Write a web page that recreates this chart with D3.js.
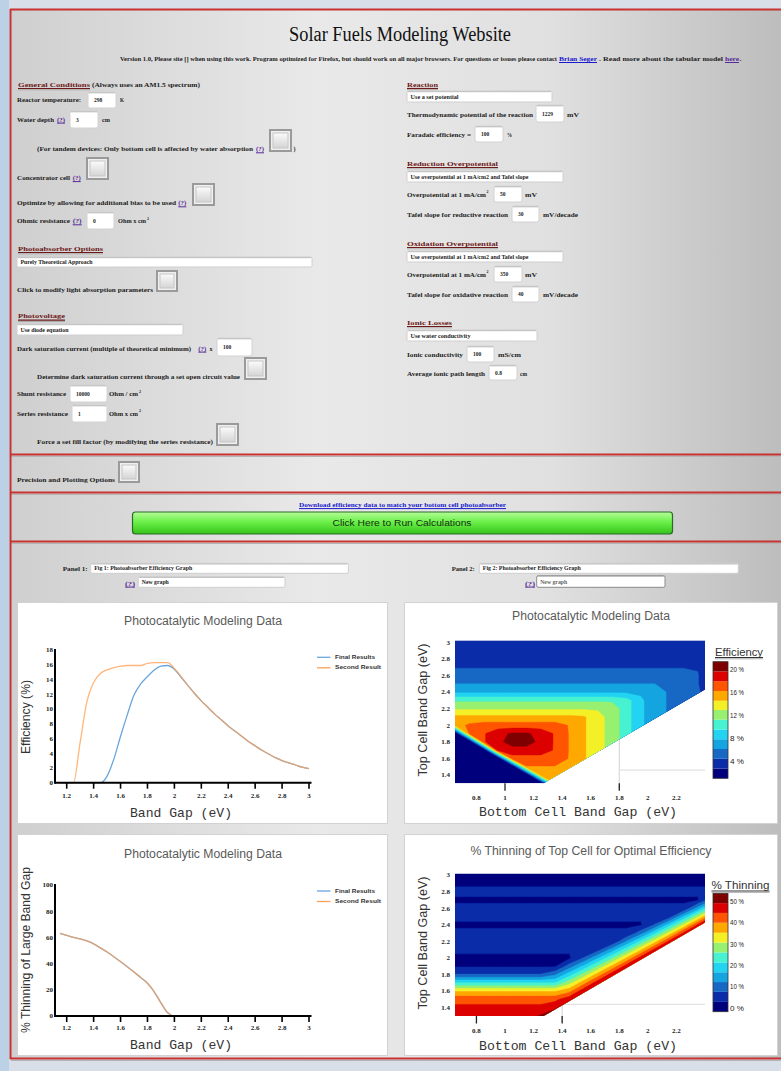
<!DOCTYPE html>
<html>
<head>
<meta charset="utf-8">
<title>Solar Fuels Modeling Website</title>
<script src="https://cdnjs.cloudflare.com/ajax/libs/d3/7.8.5/d3.min.js"></script>
<style>
  html, body { margin: 0; padding: 0; background: #d3dce7; }
  svg { display: block; }
</style>
</head>
<body>
<svg id="page" width="781" height="1071"></svg>
<script>
// ---------- chart data ----------
const bandGap = [1.15, 1.2, 1.25, 1.3, 1.35, 1.4, 1.45, 1.5, 1.55, 1.6, 1.65, 1.7, 1.75, 1.8, 1.85, 1.9, 1.95, 2.0,
  2.05, 2.1, 2.15, 2.2, 2.25, 2.3, 2.35, 2.4, 2.45, 2.5, 2.55, 2.6, 2.65, 2.7, 2.75, 2.8, 2.85, 2.9, 2.95, 3.0];
const efficiencyFinal = [0, 0, 0, 0, 0, 0, 0, 0.9, 3.2, 6.3, 9.2, 11.9, 13.4, 14.4, 15.3, 15.8, 15.9, 15.4,
  14.3, 13.2, 12.1, 11.1, 10.2, 9.3, 8.5, 7.7, 7.0, 6.3, 5.6, 5.0, 4.4, 3.9, 3.4, 3.0, 2.7, 2.4, 2.1, 1.9];
const efficiencySecond = [0, 0, 0, 5.5, 11.0, 13.6, 14.8, 15.3, 15.6, 15.8, 15.9, 15.9, 15.9, 16.2, 16.3, 16.3, 16.3, 15.5,
  14.4, 13.2, 12.1, 11.1, 10.2, 9.3, 8.5, 7.7, 7.0, 6.3, 5.6, 5.0, 4.4, 3.9, 3.4, 3.0, 2.7, 2.4, 2.1, 1.9];
const thinningFinal = [63, 61.5, 60, 58.8, 57.3, 55, 52, 48.8, 45.3, 41.5, 37.6, 33.5, 29.4, 25, 18.5, 10, 2.5, 0,
  0, 0, 0, 0, 0, 0, 0, 0, 0, 0, 0, 0, 0, 0, 0, 0, 0, 0, 0, 0];
const thinningSecond = [63, 61.5, 60, 58.8, 57.3, 55, 52, 48.8, 45.3, 41.5, 37.6, 33.5, 29.4, 25, 18.5, 10, 2.5, 0,
  0, 0, 0, 0, 0, 0, 0, 0, 0, 0, 0, 0, 0, 0, 0, 0, 0, 0, 0, 0];
const seriesNames = ['Final Results', 'Second Result'];
const seriesColors = ['#6aa6db', '#ffa257'];
const bandGapTicks = [1.2, 1.4, 1.6, 1.8, 2, 2.2, 2.4, 2.6, 2.8, 3];
const efficiencyTicks = [0, 2, 4, 6, 8, 10, 12, 14, 16, 18];
const thinningTicks = [0, 20, 40, 60, 80, 100];

// tandem maps: columns = bottom cell gap, rows = top cell gap (low to high)
const bottomGaps = [0.65, 0.75, 0.85, 0.95, 1.05, 1.15, 1.25, 1.35, 1.45, 1.55, 1.65, 1.75, 1.85, 1.95, 2.05, 2.15, 2.25, 2.35, 2.45];
const topGaps = [1.3, 1.4, 1.5, 1.6, 1.7, 1.8, 1.9, 2.0, 2.1, 2.2, 2.3, 2.4, 2.5, 2.6, 2.7, 2.8, 2.9, 3.0];
const efficiencyGrid = [
  [0, 0, 0, 0, 0, 0, 0, 15, 15, 14.8, 13.6, 12.3, 10.3, 8.2, 6.9, 6.0, 5.3, 4.6, 4.0],
  [0, 0, 0, 0, 0, 0, 15.5, 15.5, 15.5, 14.8, 13.6, 12.3, 10.3, 8.2, 6.9, 6.0, 5.3, 4.6, 4.0],
  [0, 0, 0, 0, 0, 16.2, 16.2, 16.2, 16.2, 14.8, 13.6, 12.3, 10.3, 8.2, 6.9, 6.0, 5.3, 4.6, 4.0],
  [0, 0, 0, 0, 17.3, 17.3, 17.3, 17.3, 16.2, 14.8, 13.6, 12.3, 10.3, 8.2, 6.9, 6.0, 5.3, 4.6, 4.0],
  [0, 0, 0, 19, 19, 19, 19, 17.8, 16.2, 14.8, 13.6, 12.3, 10.3, 8.2, 6.9, 6.0, 5.3, 4.6, 4.0],
  [0, 0, 17.8, 19.2, 20.5, 20.5, 19.2, 17.8, 16.2, 14.8, 13.6, 12.3, 10.3, 8.2, 6.9, 6.0, 5.3, 4.6, 4.0],
  [0, 16.6, 17.8, 19.2, 19.9, 19.9, 19.2, 17.8, 16.2, 14.8, 13.6, 12.3, 10.3, 8.2, 6.9, 6.0, 5.3, 4.6, 4.0],
  [15.5, 16.6, 17, 17, 17, 17, 17, 17, 16.2, 14.8, 13.6, 12.3, 10.3, 8.2, 6.9, 6.0, 5.3, 4.6, 4.0],
  [15, 15, 15, 15, 15, 15, 15, 15, 15, 14.8, 13.6, 12.3, 10.3, 8.2, 6.9, 6.0, 5.3, 4.6, 4.0],
  [12.8, 12.8, 12.8, 12.8, 12.8, 12.8, 12.8, 12.8, 12.8, 12.8, 12.8, 12.3, 10.3, 8.2, 6.9, 6.0, 5.3, 4.6, 4.0],
  [11, 11, 11, 11, 11, 11, 11, 11, 11, 11, 11, 11, 10.3, 8.2, 6.9, 6.0, 5.3, 4.6, 4.0],
  [7.6, 7.6, 7.6, 7.6, 7.6, 7.6, 7.6, 7.6, 7.6, 7.6, 7.6, 7.6, 7.6, 7.6, 6.9, 6.0, 5.3, 4.6, 4.0],
  [6.2, 6.2, 6.2, 6.2, 6.2, 6.2, 6.2, 6.2, 6.2, 6.2, 6.2, 6.2, 6.2, 6.2, 6.2, 6.0, 5.3, 4.6, 2.6],
  [5.3, 5.3, 5.3, 5.3, 5.3, 5.3, 5.3, 5.3, 5.3, 5.3, 5.3, 5.3, 5.3, 5.3, 5.3, 5.3, 5.3, 4.6, 2.6],
  [4.4, 4.4, 4.4, 4.4, 4.4, 4.4, 4.4, 4.4, 4.4, 4.4, 4.4, 4.4, 4.4, 4.4, 4.4, 4.4, 4.4, 4.4, 2.6],
  [4.0, 4.0, 4.0, 4.0, 4.0, 4.0, 4.0, 4.0, 4.0, 4.0, 4.0, 4.0, 4.0, 4.0, 4.0, 4.0, 4.0, 4.0, 4.0],
  [3.6, 3.6, 3.6, 3.6, 3.6, 3.6, 3.6, 3.6, 3.6, 3.6, 3.6, 3.6, 3.6, 3.6, 3.6, 3.6, 3.6, 3.6, 3.6],
  [3.2, 3.2, 3.2, 3.2, 3.2, 3.2, 3.2, 3.2, 3.2, 3.2, 3.2, 3.2, 3.2, 3.2, 3.2, 3.2, 3.2, 3.2, 3.2]
];
const thinningGrid = [
  [47, 47, 47, 47, 47, 47, 50, 53, 53, 53, 53, 53, 53, 53, 53, 53, 53, 53, 53],
  [45.5, 45.5, 45.5, 45.5, 45.5, 45.5, 45.5, 48.4, 53, 53, 53, 53, 53, 53, 53, 53, 53, 53, 53],
  [43.5, 43.5, 43.5, 43.5, 43.5, 43.5, 43.5, 43.5, 48.2, 53, 53, 53, 53, 53, 53, 53, 53, 53, 53],
  [35, 35, 35, 35, 35, 35, 35, 35, 38.6, 48.0, 53, 53, 53, 53, 53, 53, 53, 53, 53],
  [21.5, 21.5, 21.5, 21.5, 21.5, 21.5, 21.5, 21.5, 29.1, 38.0, 47.8, 53, 53, 53, 53, 53, 53, 53, 53],
  [8, 8, 8, 8, 8, 8, 8, 11.7, 19.5, 28.0, 37.3, 47.5, 53, 53, 53, 53, 53, 53, 53],
  [2.6, 2.6, 2.6, 2.6, 2.6, 2.6, 2.6, 2.6, 9.9, 18.0, 26.9, 36.6, 47.2, 53, 53, 53, 53, 53, 53],
  [2.4, 2.4, 2.4, 2.4, 2.4, 2.4, 2.4, 2.4, 2.4, 8.0, 16.5, 25.6, 35.7, 46.9, 53, 53, 53, 53, 53],
  [3.6, 3.6, 3.6, 3.6, 3.6, 3.6, 3.6, 3.6, 3.6, 3.6, 6.0, 14.7, 24.2, 34.8, 46.6, 53, 53, 53, 53],
  [3.6, 3.6, 3.6, 3.6, 3.6, 3.6, 3.6, 3.6, 3.6, 3.6, 3.6, 3.7, 12.7, 22.7, 33.8, 46.2, 53, 53, 53],
  [3.6, 3.6, 3.6, 3.6, 3.6, 3.6, 3.6, 3.6, 3.6, 3.6, 3.6, 3.6, 3.6, 10.5, 21.0, 32.7, 45.8, 53, 53],
  [2.6, 2.6, 2.6, 2.6, 2.6, 2.6, 2.6, 2.6, 2.6, 2.6, 2.6, 2.6, 2.6, 2.6, 8.2, 19.1, 31.4, 45.3, 53],
  [3.6, 3.6, 3.6, 3.6, 3.6, 3.6, 3.6, 3.6, 3.6, 3.6, 3.6, 3.6, 3.6, 3.6, 3.6, 5.5, 16.9, 29.9, 44.7],
  [3.6, 3.6, 3.6, 3.6, 3.6, 3.6, 3.6, 3.6, 3.6, 3.6, 3.6, 3.6, 3.6, 3.6, 3.6, 3.6, 3.6, 14.4, 28.2],
  [2.6, 2.6, 2.6, 2.6, 2.6, 2.6, 2.6, 2.6, 2.6, 2.6, 2.6, 2.6, 2.6, 2.6, 2.6, 2.6, 2.6, 2.6, 11.6],
  [3.6, 3.6, 3.6, 3.6, 3.6, 3.6, 3.6, 3.6, 3.6, 3.6, 3.6, 3.6, 3.6, 3.6, 3.6, 3.6, 3.6, 3.6, 3.6],
  [2.6, 2.6, 2.6, 2.6, 2.6, 2.6, 2.6, 2.6, 2.6, 2.6, 2.6, 2.6, 2.6, 2.6, 2.6, 2.6, 2.6, 2.6, 2.6],
  [2.0, 2.0, 2.0, 2.0, 2.0, 2.0, 2.0, 2.0, 2.0, 2.0, 2.0, 2.0, 2.0, 2.0, 2.0, 2.0, 2.0, 2.0, 2.0]
];
const efficiencyLevels = [2.8, 4.5, 6.2, 7.9, 9.6, 11.3, 13.0, 14.6, 16.3, 18.0, 19.7];
const thinningLevels = [3.0, 7.7, 12.3, 16.9, 21.5, 26.2, 30.8, 35.4, 40.1, 44.7, 49.3];
const contourColors = ['#00007c', '#0a2ca8', '#1668c4', '#14a4e0', '#22d4f2', '#46f2d0',
  '#98f070', '#f4f028', '#ffa800', '#ff5400', '#dc0000', '#7e0000'];
const bottomTicks = [0.8, 1, 1.2, 1.4, 1.6, 1.8, 2, 2.2];
const topTicks = [1.4, 1.6, 1.8, 2, 2.2, 2.4, 2.6, 2.8, 3];
const efficiencyLegendTicks = [20, 16, 12, 8, 4];
const thinningLegendTicks = [50, 40, 30, 20, 10, 0];

// ---------- page ----------
const serif = '"Liberation Serif","Times New Roman",serif';
const sans = '"Liberation Sans",Arial,sans-serif';
const mono = '"Liberation Mono","Courier New",monospace';

const svg = d3.select('#page');
const defs = svg.append('defs');

function gradient(id, stops, vertical) {
  const gr = defs.append('linearGradient').attr('id', id)
    .attr('x1', 0).attr('y1', 0).attr('x2', vertical ? 0 : 1).attr('y2', vertical ? 1 : 0);
  gr.selectAll('stop').data(stops).enter().append('stop')
    .attr('offset', d => d[0]).attr('stop-color', d => d[1]);
}
gradient('bgGrad', [[0, '#cfcfcf'], [0.4, '#e9e9e9'], [0.7, '#e0e0e0'], [1, '#bdbdbd']]);
gradient('chkGrad', [[0, '#fbfbfb'], [1, '#d4d4d4']], true);
gradient('btnGrad', [[0, '#b4fd98'], [0.45, '#6cf04a'], [1, '#34c41a']], true);

function label(g, x, y, t, w, o = {}) {
  const el = g.append('text').attr('x', x).attr('y', y).text(t)
    .style('font-family', o.family || serif)
    .style('font-size', (o.size || 6.5) + 'px')
    .style('font-weight', o.weight || 'bold')
    .style('fill', o.color || '#1c1c1c');
  if (o.anchor) el.attr('text-anchor', o.anchor);
  if (o.italic) el.style('font-style', 'italic');
  if (w) el.attr('textLength', w).attr('lengthAdjust', 'spacingAndGlyphs');
  return el;
}

// outer strips and container
svg.append('rect').attr('width', 781).attr('height', 1071).attr('fill', '#d8dfe8');
svg.append('rect').attr('x', 0).attr('y', 0).attr('width', 9).attr('height', 1071).attr('fill', '#bcd0e6');
svg.append('rect').attr('x', 10).attr('y', 9).attr('width', 771).attr('height', 1050).attr('fill', 'url(#bgGrad)');

const redLines = [9.5, 454.5, 492.5, 541.5, 1058.5];
svg.selectAll('.sep').data(redLines).enter().append('line')
  .attr('x1', 10).attr('x2', 781).attr('y1', d => d).attr('y2', d => d)
  .attr('stroke', '#c83232').attr('stroke-width', 2);
svg.selectAll('.sep2').data(redLines.slice(1)).enter().append('line')
  .attr('x1', 11).attr('x2', 781).attr('y1', d => d + 2).attr('y2', d => d + 2)
  .attr('stroke', '#b4b4b4').attr('stroke-width', 1);
svg.append('line').attr('x1', 10.5).attr('x2', 10.5).attr('y1', 9).attr('y2', 1059)
  .attr('stroke', '#c83232').attr('stroke-width', 2);

const page = svg.append('g');

// header
label(page, 400, 41, 'Solar Fuels Modeling Website', 222, { size: 20, weight: 'normal', anchor: 'middle', color: '#111' });
label(page, 120, 61, 'Version 1.0, Please site [] when using this work. Program optimized for Firefox, but should work on all major browsers. For questions or issues please contact', 437, { size: 6 });
label(page, 559, 61, 'Brian Seger', 38, { size: 6, color: '#1a1acc' });
label(page, 599, 61, '. Read more about the tabular model', 124, { size: 6 });
label(page, 725, 61, 'here', 14, { size: 6, color: '#5a2a9a' });
label(page, 739.5, 61, '.', 2, { size: 6 });
page.append('line').attr('x1', 559).attr('x2', 597).attr('y1', 62.5).attr('y2', 62.5).attr('stroke', '#1a1acc');
page.append('line').attr('x1', 725).attr('x2', 739).attr('y1', 62.5).attr('y2', 62.5).attr('stroke', '#5a2a9a');

// form: [x, baseline, text, width, kind]  kind: h = heading, q = help link, s = superscript
const formTexts = [
  [18, 86.5, 'General Conditions', 72, 'h'],
  [92, 86.5, '(Always uses an AM1.5 spectrum)', 108],
  [17, 102.2, 'Reactor temperature:', 64],
  [120, 102.2, 'K', 4],
  [17, 121.5, 'Water depth', 37],
  [57, 121.5, '(?)', 8, 'q'],
  [102, 121.5, 'cm', 8],
  [37, 151.2, '(For tandem devices: Only bottom cell is affected by water absorption', 216],
  [256, 151.2, '(?)', 8, 'q'],
  [293.5, 151.2, ')', 2],
  [17, 180, 'Concentrator cell', 53],
  [72.7, 180, '(?)', 8, 'q'],
  [17, 205.2, 'Optimize by allowing for additional bias to be used', 159],
  [178.3, 205.2, '(?)', 8, 'q'],
  [17, 223.2, 'Ohmic resistance', 53],
  [72.7, 223.2, '(?)', 9, 'q'],
  [118, 223.2, 'Ohm x cm', 28],
  [147, 219.5, '2', 2, 's'],
  [18, 250.5, 'Photoabsorber Options', 85, 'h'],
  [17, 291.5, 'Click to modify light absorption parameters', 136],
  [18, 318.2, 'Photovoltage', 47, 'h'],
  [17, 350.5, 'Dark saturation current (multiple of theoretical minimum)', 174],
  [198.3, 350.5, '(?)', 8, 'q'],
  [209.5, 350.5, 'x', 3],
  [37, 379, 'Determine dark saturation current through a set open circuit value', 203],
  [17, 396.2, 'Shunt resistance', 49],
  [109, 396.2, 'Ohm / cm', 29],
  [139, 392.5, '2', 2, 's'],
  [17, 415.5, 'Series resistance', 51],
  [109, 415.5, 'Ohm x cm', 29],
  [139, 411.8, '2', 2, 's'],
  [37, 444, 'Force a set fill factor (by modifying the series resistance)', 176],
  [407, 86.5, 'Reaction', 31, 'h'],
  [407, 117.2, 'Thermodynamic potential of the reaction', 126],
  [567, 117.2, 'mV', 12],
  [407, 137.2, 'Faradaic efficiency =', 64],
  [507, 137.2, '%', 5],
  [407, 165.5, 'Reduction Overpotential', 91, 'h'],
  [407, 196.5, 'Overpotential at 1 mA/cm', 79],
  [486.5, 192.8, '2', 2, 's'],
  [525, 196.5, 'mV', 12],
  [407, 216.5, 'Tafel slope for reductive reaction', 101],
  [543, 216.5, 'mV/decade', 35],
  [407, 245.5, 'Oxidation Overpotential', 91, 'h'],
  [407, 276.5, 'Overpotential at 1 mA/cm', 79],
  [486.5, 272.8, '2', 2, 's'],
  [525, 276.5, 'mV', 12],
  [407, 296.5, 'Tafel slope for oxidative reaction', 101],
  [543, 296.5, 'mV/decade', 35],
  [407, 324.5, 'Ionic Losses', 45, 'h'],
  [407, 356.5, 'Ionic conductivity', 56],
  [498, 356.5, 'mS/cm', 23],
  [407, 375.5, 'Average ionic path length', 78],
  [520, 375.5, 'cm', 7],
  [17, 482, 'Precision and Plotting Options', 98],
  [62.7, 570.5, 'Panel 1:', 25],
  [125, 585.5, '(?)', 10, 'q'],
  [451.7, 570.5, 'Panel 2:', 23],
  [525, 585.5, '(?)', 10, 'q']
];
formTexts.forEach(([x, y, t, w, k]) => {
  if (k === 'h') {
    label(page, x, y, t, w, { color: '#6e1818', size: 7 });
    page.append('line').attr('x1', x).attr('x2', x + w).attr('y1', y + 2).attr('y2', y + 2).attr('stroke', '#6e1818').attr('stroke-width', 1.2);
    page.append('line').attr('x1', x).attr('x2', x + w).attr('y1', y + 3.3).attr('y2', y + 3.3).attr('stroke', '#a0a0a0').attr('stroke-width', 0.8);
  } else if (k === 'q') {
    label(page, x, y, t, w, { color: '#5a2a9a' });
    page.append('line').attr('x1', x).attr('x2', x + w).attr('y1', y + 1.6).attr('y2', y + 1.6).attr('stroke', '#5a2a9a').attr('stroke-width', 1);
  } else if (k === 's') {
    label(page, x, y, t, w, { size: 4 });
  } else {
    label(page, x, y, t, w);
  }
});

// inputs: [x, y, w, h, value]
const formInputs = [
  [88, 92, 28, 16, '298'], [70, 111, 28, 17, '3'], [87, 212, 27, 17, '0'],
  [217, 338, 35, 18, '100'], [70, 385, 37, 17, '10000'], [72, 405, 35, 17, '1'],
  [536, 105, 28, 17, '1229'], [475, 126, 28, 16, '100'], [494, 186, 28, 16, '50'],
  [512, 206, 27, 16, '30'], [494, 266, 28, 16, '350'], [512, 286, 27, 16, '40'],
  [467, 346, 27, 16, '100'], [489, 365, 28, 15, '0.8']
];
formInputs.forEach(([x, y, w, h, v]) => {
  page.append('rect').attr('x', x).attr('y', y).attr('width', w).attr('height', h).attr('rx', 2)
    .attr('fill', '#fff').attr('stroke', '#d2d2d2');
  page.append('line').attr('x1', x + 1).attr('x2', x + w - 1).attr('y1', y + 0.8).attr('y2', y + 0.8).attr('stroke', '#b8b8b8');
  label(page, x + 6, y + h / 2 + 2.2, v, null, { size: 5.5 });
});

// selects / long text fields: [x, y, w, h, text, textWidth, grey]
const formSelects = [
  [17, 257, 295, 10, 'Purely Theoretical Approach', 72],
  [17, 324, 166, 11, 'Use diode equation', 48],
  [407, 91, 145, 11, 'Use a set potential', 48],
  [407, 171, 156, 11, 'Use overpotential at 1 mA/cm2 and Tafel slope', 118],
  [407, 251, 156, 11, 'Use overpotential at 1 mA/cm2 and Tafel slope', 118],
  [407, 330, 130, 11, 'Use water conductivity', 60],
  [90.7, 563.3, 257.6, 10, 'Fig 1: Photoabsorber Efficiency Graph', 98],
  [138.3, 576.7, 146.7, 10.6, 'New graph', 27],
  [479.3, 563.3, 259, 10, 'Fig 2: Photoabsorber Efficiency Graph', 98],
  [536.7, 575.7, 128.3, 11.6, 'New graph', 27, true]
];
formSelects.forEach(([x, y, w, h, t, tw, grey]) => {
  page.append('rect').attr('x', x).attr('y', y).attr('width', w).attr('height', h).attr('rx', 1.5)
    .attr('fill', '#fff').attr('stroke', grey ? '#8a8a8a' : '#cfcfcf');
  page.append('line').attr('x1', x + 1).attr('x2', x + w - 1).attr('y1', y + 0.7).attr('y2', y + 0.7).attr('stroke', '#bdbdbd');
  label(page, x + 3.5, y + h / 2 + 2, t, tw, { size: 5.5, color: grey ? '#666' : '#1c1c1c' });
});

// checkboxes: [x, y, size]
const formChecks = [[270, 130, 21], [87, 158, 21], [193, 184, 21], [157, 271, 20],
  [245, 358, 21], [217, 424, 21], [119, 462, 20]];
formChecks.forEach(([x, y, s]) => {
  page.append('rect').attr('x', x).attr('y', y).attr('width', s).attr('height', s)
    .attr('fill', '#efefef').attr('stroke', '#9a9a9a').attr('stroke-width', 2);
  page.append('rect').attr('x', x + 3).attr('y', y + 3).attr('width', s - 6).attr('height', s - 6)
    .attr('fill', 'url(#chkGrad)').attr('stroke', '#c6c6c6');
});

// download link + run button
label(page, 299, 507, 'Download efficiency data to match your bottom cell photoabsorber', 207, { size: 6, color: '#1a1acc' });
page.append('line').attr('x1', 299).attr('x2', 506).attr('y1', 508.6).attr('y2', 508.6).attr('stroke', '#1a1acc');
page.append('rect').attr('x', 132.5).attr('y', 512).attr('width', 540).attr('height', 22).attr('rx', 3)
  .attr('fill', 'url(#btnGrad)').attr('stroke', '#2b6a28').attr('stroke-width', 1.2);
label(page, 402, 526, 'Click Here to Run Calculations', 139, { family: sans, size: 8.5, weight: 'normal', anchor: 'middle', color: '#123012' });

// ---------- charts ----------
function chartBox(ox, oy, w) {
  const g = svg.append('g').attr('transform', `translate(${ox},${oy})`);
  g.append('rect').attr('x', -0.5).attr('y', 1.5).attr('width', w + 1).attr('height', 221)
    .attr('fill', 'none').attr('stroke', '#d2d2d2');
  g.append('rect').attr('x', 0).attr('y', 2).attr('width', w).attr('height', 220).attr('fill', '#fff');
  return g;
}

function lineChart(ox, oy, cfg) {
  const g = chartBox(ox, oy, 369);
  const x = d3.scaleLinear().domain([1.113, 3]).range([37, 291]);
  const y = d3.scaleLinear().domain([0, cfg.yMax]).range(cfg.yRange);

  label(g, 185, cfg.titleY, 'Photocatalytic Modeling Data', 158, { family: sans, size: 12, weight: 'normal', anchor: 'middle', color: '#5a5a5a' });

  // lines
  const line = d3.line().x((d, i) => x(bandGap[i])).y(d => y(d)).curve(d3.curveMonotoneX);
  cfg.series.forEach((s, k) => {
    g.append('path').datum(s).attr('d', line).attr('fill', 'none')
      .attr('stroke', seriesColors[k]).attr('stroke-width', 1.3).attr('opacity', k ? 0.78 : 1);
  });

  // axes
  g.append('line').attr('x1', 37).attr('x2', 293.5).attr('y1', y(0)).attr('y2', y(0)).attr('stroke', '#000').attr('stroke-width', 2);
  g.append('line').attr('x1', 37).attr('x2', 37).attr('y1', y(0) + 1).attr('y2', cfg.yRange[1] - 1).attr('stroke', '#000').attr('stroke-width', 2);
  g.selectAll('.xt').data(bandGapTicks).enter().append('line')
    .attr('x1', d => x(d)).attr('x2', d => x(d)).attr('y1', y(0)).attr('y2', y(0) + 6)
    .attr('stroke', '#000').attr('stroke-width', 1.6);
  bandGapTicks.forEach(d => label(g, x(d), cfg.xTickY, String(d), null, { size: 7, anchor: 'middle' }));
  cfg.yTicks.forEach(d => label(g, 35, y(d) + 2.3, String(d), null, { size: 7, anchor: 'end' }));

  label(g, 163, cfg.xLabelY, 'Band Gap (eV)', 102, { family: mono, size: 13, weight: 'normal', anchor: 'middle', color: '#333' });
  label(g, 0, 0, cfg.yLabel, cfg.yLabelW, { family: sans, size: 12, weight: 'normal', anchor: 'middle', color: '#333' })
    .attr('transform', `translate(12,${cfg.yLabelY}) rotate(-90)`);

  // legend
  seriesNames.forEach((n, k) => {
    const ly = cfg.legendY + k * 10.5;
    g.append('line').attr('x1', 299).attr('x2', 312.5).attr('y1', ly).attr('y2', ly)
      .attr('stroke', seriesColors[k]).attr('stroke-width', 1.3);
    label(g, 317, ly + 1.6, n, k ? 46 : 40, { family: sans, size: 5, color: '#333' });
  });
}

function contourChart(ox, oy, cfg) {
  const g = chartBox(ox, oy, 372);
  const x = d3.scaleLinear().domain([0.65, 2.4]).range([50, 300]);
  const y = d3.scaleLinear().domain([1.3, 3.02]).range(cfg.yRange);
  const nx = bottomGaps.length, ny = topGaps.length;
  const gx = d3.scaleLinear().domain([0.5, nx - 0.5]).range([bottomGaps[0], bottomGaps[nx - 1]]);
  const gy = d3.scaleLinear().domain([0.5, ny - 0.5]).range([topGaps[0], topGaps[ny - 1]]);

  label(g, 186, cfg.titleY, cfg.title, cfg.titleW, { family: sans, size: 12, weight: 'normal', anchor: 'middle', color: '#5a5a5a' });

  // clip: region where the top cell gap exceeds the bottom cell gap
  const clipId = 'clip' + cfg.id;
  const clipPts = [[0.65, 1.3], [1.27, 1.3], [2.4, 2.43], [2.4, 3.02], [0.65, 3.02]];
  defs.append('clipPath').attr('id', clipId).append('polygon')
    .attr('points', clipPts.map(p => [x(p[0]), y(p[1])].join(',')).join(' '));

  // light guide lines behind the map
  const [cb, ct] = cfg.cross;
  g.append('line').attr('x1', x(cb)).attr('x2', x(cb)).attr('y1', y(ct + 0.38)).attr('y2', y(1.3) + 6)
    .attr('stroke', '#d8d8d8').attr('stroke-width', 1.2);
  g.append('line').attr('x1', x(cb)).attr('x2', x(2.4)).attr('y1', y(ct)).attr('y2', y(ct))
    .attr('stroke', '#e2e2e2').attr('stroke-width', 1.2);

  const map = g.append('g').attr('clip-path', `url(#${clipId})`);
  map.append('rect').attr('x', x(0.65)).attr('y', y(3.02)).attr('width', x(2.4) - x(0.65))
    .attr('height', y(1.3) - y(3.02)).attr('fill', contourColors[0]);
  const contours = d3.contours().size([nx, ny]).thresholds(cfg.levels)(cfg.grid.flat());
  const proj = d3.geoTransform({ point(px, py) { this.stream.point(x(gx(px)), y(gy(py))); } });
  const path = d3.geoPath(proj);
  map.selectAll('path').data(contours).enter().append('path')
    .attr('d', path).attr('fill', (d, i) => contourColors[i + 1])
    .attr('stroke', (d, i) => contourColors[i + 1]).attr('stroke-width', 0.4);

  cfg.ticks.forEach(b => {
    g.append('line').attr('x1', x(b)).attr('x2', x(b)).attr('y1', y(1.3)).attr('y2', y(1.3) + 7.5)
      .attr('stroke', '#222').attr('stroke-width', 1.3);
  });

  bottomTicks.forEach(d => label(g, x(d), cfg.xTickY, String(d), null, { size: 7, anchor: 'middle' }));
  topTicks.forEach(d => label(g, 45, y(d) + 2.3, String(d), null, { size: 7, anchor: 'end' }));
  label(g, 173, cfg.xLabelY, 'Bottom Cell Band Gap (eV)', 198, { family: mono, size: 13, weight: 'normal', anchor: 'middle', color: '#333' });
  label(g, 0, 0, 'Top Cell Band Gap (eV)', 133, { family: sans, size: 12, weight: 'normal', anchor: 'middle', color: '#333' })
    .attr('transform', `translate(21.5,${cfg.yLabelY}) rotate(-90)`);

  // color bar
  const cbScale = d3.scaleLinear().domain(cfg.cbDomain).range(cfg.cbRange);
  const edges = [cfg.cbDomain[0], ...cfg.levels, cfg.cbDomain[1]];
  const bar = g.append('g');
  contourColors.forEach((c, i) => {
    bar.append('rect').attr('x', cfg.cbX).attr('width', 15)
      .attr('y', cbScale(edges[i + 1])).attr('height', cbScale(edges[i]) - cbScale(edges[i + 1]))
      .attr('fill', c);
  });
  bar.append('rect').attr('x', cfg.cbX).attr('width', 15).attr('y', cbScale(cfg.cbDomain[1]))
    .attr('height', cbScale(cfg.cbDomain[0]) - cbScale(cfg.cbDomain[1]))
    .attr('fill', 'none').attr('stroke', '#333').attr('stroke-width', 0.8);
  cfg.legendTicks.forEach(v => label(g, cfg.cbX + 17, cbScale(v) + 2.3, v + ' %', 14, { family: sans, size: 6.5, weight: 'normal', color: '#222' }));
  label(g, cfg.legendX, cfg.legendTitleY, cfg.legendTitle, cfg.legendTitleW, { family: sans, size: 10, weight: 'normal', color: '#333' });
  g.append('line').attr('x1', cfg.legendX).attr('x2', cfg.legendX + cfg.legendTitleW)
    .attr('y1', cfg.legendTitleY + 2).attr('y2', cfg.legendTitleY + 2).attr('stroke', '#333').attr('stroke-width', 1);
  g.append('line').attr('x1', cfg.legendX).attr('x2', cfg.legendX + cfg.legendTitleW)
    .attr('y1', cfg.legendTitleY + 3.3).attr('y2', cfg.legendTitleY + 3.3).attr('stroke', '#aaa').attr('stroke-width', 1);
}

lineChart(18, 601, {
  series: [efficiencyFinal, efficiencySecond], yMax: 18, yRange: [181.7, 49], yTicks: efficiencyTicks,
  titleY: 24, xTickY: 196.5, xLabelY: 215.5, yLabel: 'Efficiency (%)', yLabelW: 74, yLabelY: 116, legendY: 56.3
});
lineChart(18, 833, {
  series: [thinningFinal, thinningSecond], yMax: 100, yRange: [183, 52], yTicks: thinningTicks,
  titleY: 24.5, xTickY: 196.5, xLabelY: 216, yLabel: '% Thinning of Large Band Gap', yLabelW: 166, yLabelY: 117, legendY: 58
});
contourChart(405, 601, {
  id: 'eff', title: 'Photocatalytic Modeling Data', titleW: 158, titleY: 19,
  grid: efficiencyGrid, levels: efficiencyLevels, yRange: [182.3, 39.7],
  cbDomain: [1.1, 21.4], cbRange: [177.3, 60.7], cbX: 308, legendTicks: efficiencyLegendTicks,
  legendTitle: 'Efficiency', legendTitleW: 48, legendX: 310, legendTitleY: 54.5,
  xTickY: 198.5, xLabelY: 215, yLabelY: 109, cross: [1.8, 1.46], ticks: [1.0, 1.8]
});
contourChart(405, 833, {
  id: 'thin', title: '% Thinning of Top Cell for Optimal Efficiency', titleW: 241, titleY: 21.5,
  grid: thinningGrid, levels: thinningLevels, yRange: [183, 40.5],
  cbDomain: [-1.6, 53.9], cbRange: [178.7, 60.3], cbX: 308, legendTicks: thinningLegendTicks,
  legendTitle: '% Thinning', legendTitleW: 58, legendX: 306.5, legendTitleY: 56,
  xTickY: 200, xLabelY: 216.5, yLabelY: 110, cross: [1.4, 1.44], ticks: [0.8, 1.4]
});
</script>
</body>
</html>
